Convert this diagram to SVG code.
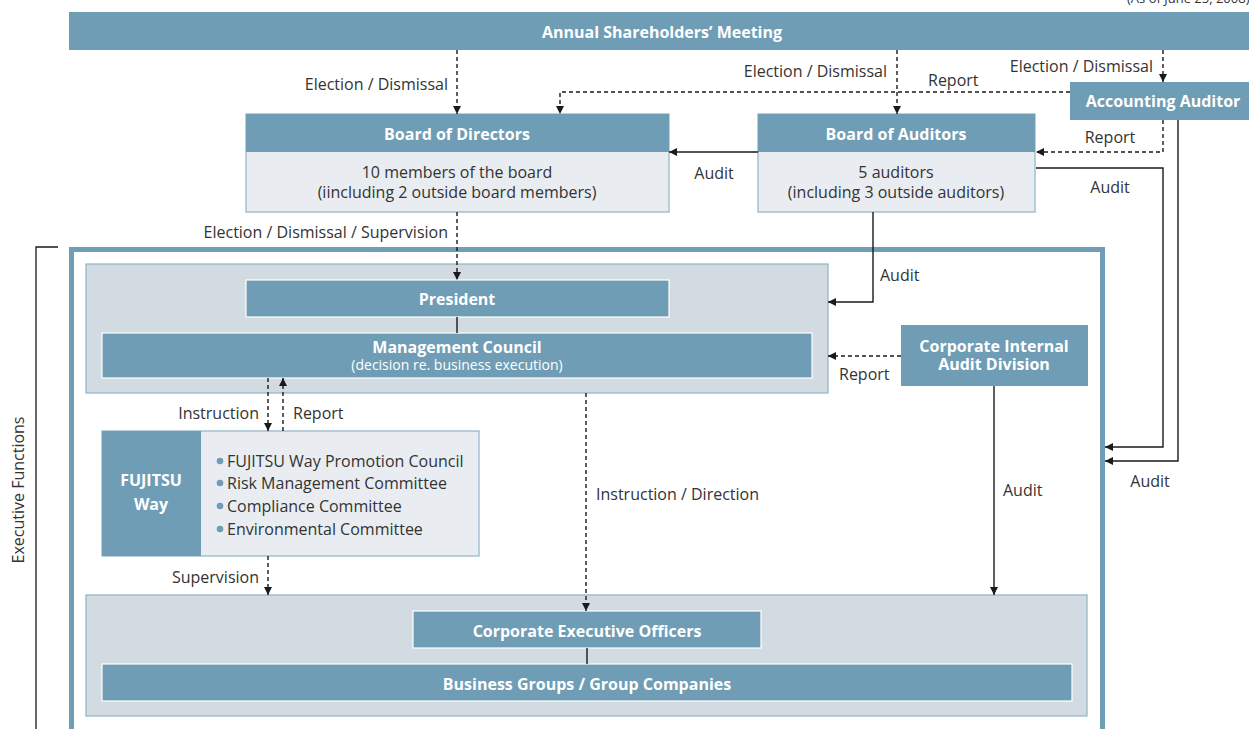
<svg xmlns="http://www.w3.org/2000/svg" width="1249" height="729" viewBox="0 0 1249 729">
<defs>
<marker id="ah" viewBox="0 0 10 10" refX="10" refY="5" markerWidth="8" markerHeight="8" markerUnits="userSpaceOnUse" orient="auto"><path d="M0,0 L10,5 L0,10 z" fill="#1a1a1a"/></marker>
</defs>
<style>
.hdr{fill:#6f9db5}
.hdrw{fill:#6f9db5;stroke:#ffffff;stroke-width:1.2}
.body{fill:#e9edf1;stroke:#8fb2c6;stroke-width:1.2}
.grp{fill:#d3dbe2;stroke:#8fb2c6;stroke-width:1.2}
.t{font-family:"Open Sans","Noto Sans",sans-serif;font-size:16px;fill:#333333}
.b{font-family:"Open Sans","Noto Sans",sans-serif;font-size:16px;font-weight:bold;fill:#ffffff}
.s{font-family:"Open Sans","Noto Sans",sans-serif;font-size:14px;fill:#ffffff}
.ln{fill:none;stroke:#1a1a1a;stroke-width:1.4}
.dl{fill:none;stroke:#1a1a1a;stroke-width:1.4;stroke-dasharray:4 3}
.bul{fill:#6f9db5}
</style>
<text x="1127" y="3" class="t" style="font-size:13px">(As of June 25, 2008)</text>

<g id="frame">
<rect x="71.5" y="249.5" width="1031" height="520" fill="#ffffff" stroke="#6f9db5" stroke-width="5"/>
<path d="M58,247 L36,247 L36,729" fill="none" stroke="#1a1a1a" stroke-width="1.3"/>
<text class="t" transform="translate(24,490) rotate(-90)" text-anchor="middle">Executive Functions</text>
</g>

<g id="shareholders">
<rect x="69" y="12" width="1180" height="38" class="hdr"/>
<text x="662" y="38" class="b" text-anchor="middle">Annual Shareholders’ Meeting</text>
</g>

<g id="accounting-auditor">
<rect x="1070" y="82" width="179" height="38" class="hdr"/>
<text x="1163" y="107" class="b" text-anchor="middle">Accounting Auditor</text>
</g>

<g id="board-directors">
<rect x="246" y="114" width="423" height="98" class="body"/>
<rect x="246" y="114" width="423" height="38" class="hdr"/>
<text x="457" y="140" class="b" text-anchor="middle">Board of Directors</text>
<text x="457" y="178" class="t" text-anchor="middle">10 members of the board</text>
<text x="457" y="198" class="t" text-anchor="middle">(iincluding 2 outside board members)</text>
</g>

<g id="board-auditors">
<rect x="758" y="114" width="277" height="98" class="body"/>
<rect x="758" y="114" width="277" height="38" class="hdr"/>
<text x="896" y="140" class="b" text-anchor="middle">Board of Auditors</text>
<text x="896" y="178" class="t" text-anchor="middle">5 auditors</text>
<text x="896" y="198" class="t" text-anchor="middle">(including 3 outside auditors)</text>
</g>

<g id="president-group">
<rect x="86" y="264" width="742" height="129" class="grp"/>
<rect x="246" y="280" width="423" height="37" class="hdrw"/>
<text x="457" y="305" class="b" text-anchor="middle">President</text>
<rect x="102" y="333" width="710" height="45" class="hdrw"/>
<text x="457" y="353" class="b" text-anchor="middle">Management Council</text>
<text x="457" y="370" class="s" text-anchor="middle">(decision re. business execution)</text>
</g>

<g id="internal-audit">
<rect x="901" y="325" width="187" height="61" class="hdr"/>
<text x="994" y="352" class="b" text-anchor="middle">Corporate Internal</text>
<text x="994" y="370" class="b" text-anchor="middle">Audit Division</text>
</g>

<g id="fujitsu-way">
<rect x="102" y="431" width="377" height="125" class="body"/>
<rect x="102" y="431" width="99" height="125" class="hdr"/>
<text x="151" y="486" class="b" text-anchor="middle">FUJITSU</text>
<text x="151" y="510" class="b" text-anchor="middle">Way</text>
<circle cx="220" cy="461" r="3.3" class="bul"/>
<text x="227" y="467" class="t">FUJITSU Way Promotion Council</text>
<circle cx="220" cy="483" r="3.3" class="bul"/>
<text x="227" y="489" class="t">Risk Management Committee</text>
<circle cx="220" cy="506" r="3.3" class="bul"/>
<text x="227" y="512" class="t">Compliance Committee</text>
<circle cx="220" cy="529" r="3.3" class="bul"/>
<text x="227" y="535" class="t">Environmental Committee</text>
</g>

<g id="executive-group">
<rect x="86" y="595" width="1001" height="121" class="grp"/>
<rect x="413" y="611" width="348" height="37" class="hdrw"/>
<text x="587" y="637" class="b" text-anchor="middle">Corporate Executive Officers</text>
<rect x="102" y="664" width="970" height="37" class="hdrw"/>
<text x="587" y="690" class="b" text-anchor="middle">Business Groups / Group Companies</text>
</g>

<g id="connectors">
<path d="M457,50 L457,114" class="dl" marker-end="url(#ah)"/>
<path d="M897,50 L897,114" class="dl" marker-end="url(#ah)"/>
<path d="M1163,50 L1163,82" class="dl" marker-end="url(#ah)"/>
<path d="M1070,92 L560,92 L560,114" class="dl" marker-end="url(#ah)"/>
<path d="M758,152 L669,152" class="ln" marker-end="url(#ah)"/>
<path d="M1163,120 L1163,152 L1036,152" class="dl" marker-end="url(#ah)"/>
<path d="M1036,168 L1163,168 L1163,447 L1105,447" class="ln" marker-end="url(#ah)"/>
<path d="M1178,120 L1178,461 L1105,461" class="ln" marker-end="url(#ah)"/>
<path d="M457,212 L457,280" class="dl" marker-end="url(#ah)"/>
<path d="M873,212 L873,302 L828,302" class="ln" marker-end="url(#ah)"/>
<path d="M457,317 L457,333" class="ln"/>
<path d="M901,356 L828,356" class="dl" marker-end="url(#ah)"/>
<path d="M994,386 L994,595" class="ln" marker-end="url(#ah)"/>
<path d="M268,378 L268,431" class="dl" marker-end="url(#ah)"/>
<path d="M283,431 L283,378" class="dl" marker-end="url(#ah)"/>
<path d="M268,556 L268,595" class="dl" marker-end="url(#ah)"/>
<path d="M586,393 L586,611" class="dl" marker-end="url(#ah)"/>
<path d="M587,648 L587,664" class="ln"/>
</g>

<g id="labels">
<text x="448" y="90" class="t" text-anchor="end">Election / Dismissal</text>
<text x="887" y="77" class="t" text-anchor="end">Election / Dismissal</text>
<text x="928" y="86" class="t">Report</text>
<text x="1153" y="72" class="t" text-anchor="end">Election / Dismissal</text>
<text x="714" y="179" class="t" text-anchor="middle">Audit</text>
<text x="1110" y="143" class="t" text-anchor="middle">Report</text>
<text x="1110" y="193" class="t" text-anchor="middle">Audit</text>
<text x="1150" y="487" class="t" text-anchor="middle">Audit</text>
<text x="448" y="238" class="t" text-anchor="end">Election / Dismissal / Supervision</text>
<text x="880" y="281" class="t">Audit</text>
<text x="839" y="380" class="t">Report</text>
<text x="1003" y="496" class="t">Audit</text>
<text x="259" y="419" class="t" text-anchor="end">Instruction</text>
<text x="293" y="419" class="t">Report</text>
<text x="259" y="583" class="t" text-anchor="end">Supervision</text>
<text x="596" y="500" class="t">Instruction / Direction</text>
</g>
</svg>
